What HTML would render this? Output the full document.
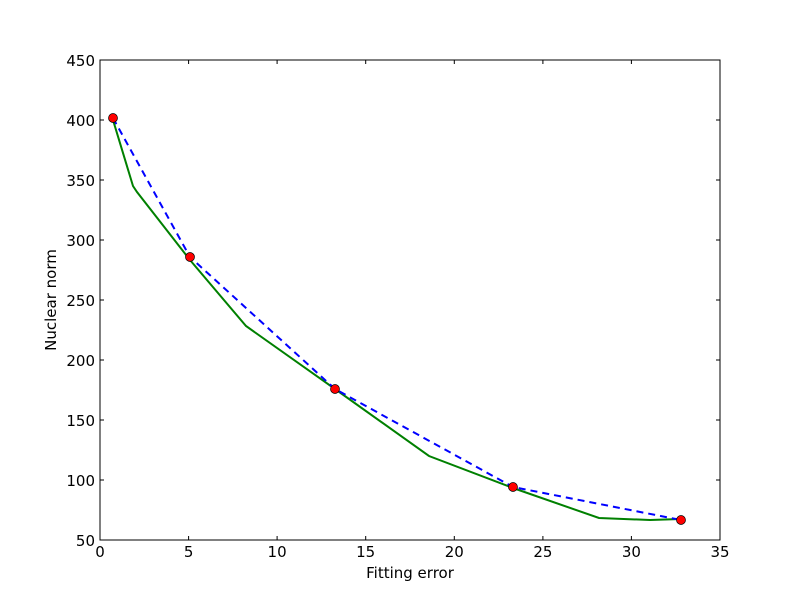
<!DOCTYPE html>
<html><head><style>body{margin:0;background:#fff}svg text{font-family:"DejaVu Sans",sans-serif;font-size:15px;fill:#000}</style></head>
<body>
<svg width="800" height="600" xmlns="http://www.w3.org/2000/svg">
<rect width="800" height="600" fill="#fff"/>
<g stroke="#000" stroke-width="1">
<path d="M100,540v-4M188.6,540v-4M277.1,540v-4M365.7,540v-4M454.3,540v-4M542.9,540v-4M631.4,540v-4M720,540v-4"/>
<path d="M100,60v4M188.6,60v4M277.1,60v4M365.7,60v4M454.3,60v4M542.9,60v4M631.4,60v4M720,60v4"/>
<path d="M100,60h4M100,120h4M100,180h4M100,240h4M100,300h4M100,360h4M100,420h4M100,480h4M100,540h4"/>
<path d="M720,60h-4M720,120h-4M720,180h-4M720,240h-4M720,300h-4M720,360h-4M720,420h-4M720,480h-4M720,540h-4"/>
</g>
<polyline fill="none" stroke="#008000" stroke-width="2" points="113,120 133,186 137,192 190,260 246,326 335,389 429,456 513,488 599,518 650,520 681,519"/>
<polyline fill="none" stroke="#0000ff" stroke-width="2" stroke-dasharray="7,5" points="113,118 190,257 335,389 513,487 681,520"/>
<g fill="#ff0000" stroke="#000" stroke-width="0.7">
<circle cx="113" cy="118" r="4.5"/><circle cx="190" cy="257" r="4.5"/><circle cx="335" cy="389" r="4.5"/><circle cx="513" cy="487" r="4.5"/><circle cx="681" cy="520" r="4.5"/>
</g>
<rect x="100" y="60" width="620" height="480" fill="none" stroke="#000" stroke-width="1"/>
<g text-anchor="middle">
<text x="100" y="557">0</text><text x="188.6" y="557">5</text><text x="277.1" y="557">10</text><text x="365.7" y="557">15</text><text x="454.3" y="557">20</text><text x="542.9" y="557">25</text><text x="631.4" y="557">30</text><text x="720" y="557">35</text>
<text x="410" y="578">Fitting error</text>
</g>
<g text-anchor="end">
<text x="95" y="66">450</text><text x="95" y="126">400</text><text x="95" y="186">350</text><text x="95" y="246">300</text><text x="95" y="306">250</text><text x="95" y="366">200</text><text x="95" y="426">150</text><text x="95" y="486">100</text><text x="95" y="546">50</text>
</g>
<text x="56" y="300" text-anchor="middle" transform="rotate(-90 56 300)">Nuclear norm</text>
</svg>
</body></html>
